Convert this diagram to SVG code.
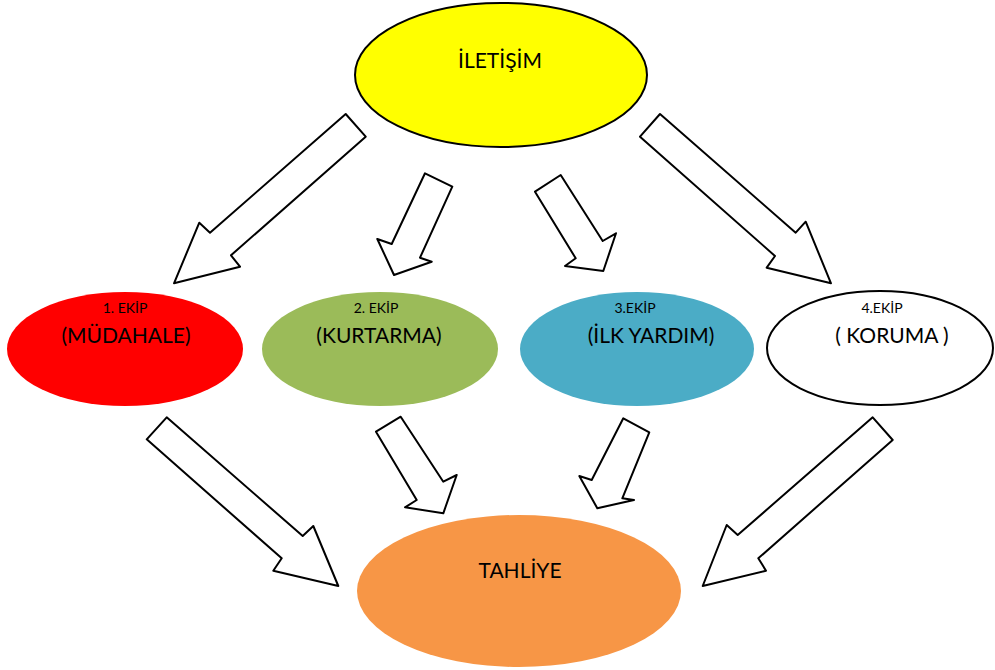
<svg xmlns="http://www.w3.org/2000/svg" width="995" height="670" viewBox="0 0 995 670">
<style>
.arrow{fill:#ffffff;stroke:#000000;stroke-width:2;stroke-linejoin:round}
text{font-family:Lato,"Open Sans","Liberation Sans",sans-serif;fill:#000000;text-anchor:middle}
.big{font-size:21px}
.small{font-size:14px}
</style>
<rect width="995" height="670" fill="#ffffff"/>
<g id="connectors">
<polygon class="arrow" points="345.7,114 365.7,136.7 231,255.3 240,266.7 174,283.3 199.3,222.7 210,232.7"/>
<polygon class="arrow" points="425,173.3 452.3,186.7 420,257.7 431.7,261.7 394,275 377.3,239 391.7,244"/>
<polygon class="arrow" points="560.7,175 535,191.7 575.7,258.3 565,266 603.3,271 616,233.3 602.7,241"/>
<polygon class="arrow" points="660,114 640,136.7 775,256 766.7,267.7 831,283.3 805.7,221.7 795.7,232.7"/>
<polygon class="arrow" points="166.7,417.3 146.7,439.3 281.7,558.3 273.3,570.7 338.3,586 313.3,526 302.7,536"/>
<polygon class="arrow" points="400.7,416.7 376,431.7 416.7,500 405,507.3 443.3,513.3 456.7,475 443.3,481.7"/>
<polygon class="arrow" points="623.3,418.3 649.3,432.3 622.3,498.3 634,500 597.3,508.3 579.3,476 591.7,480"/>
<polygon class="arrow" points="872.7,417.3 892.7,440 758.3,558.3 766,570.7 702.7,586 726.7,525 737.7,535"/>
</g>
<g id="iletisim">
<ellipse cx="501" cy="75" rx="146" ry="72" fill="#ffff00" stroke="#000000" stroke-width="2"/>
<text class="big" x="500" y="68">İLETİŞİM</text>
</g>
<g id="ekip1">
<ellipse cx="125" cy="349" rx="118" ry="57" fill="#ff0000"/>
<text class="small" x="125" y="313">1. EKİP</text>
<text class="big" x="126" y="343">(MÜDAHALE)</text>
</g>
<g id="ekip2">
<ellipse cx="380" cy="349" rx="118" ry="57" fill="#9bbb59"/>
<text class="small" x="376" y="313">2. EKİP</text>
<text class="big" x="379" y="343">(KURTARMA)</text>
</g>
<g id="ekip3">
<ellipse cx="637" cy="349" rx="117" ry="57" fill="#4bacc6"/>
<text class="small" x="635" y="313">3.EKİP</text>
<text class="big" x="651" y="343">(İLK YARDIM)</text>
</g>
<g id="ekip4">
<ellipse cx="880" cy="348" rx="113" ry="57" fill="#ffffff" stroke="#000000" stroke-width="2"/>
<text class="small" x="882" y="313">4.EKİP</text>
<text class="big" x="892" y="343">( KORUMA )</text>
</g>
<g id="tahliye">
<ellipse cx="519" cy="591" rx="162" ry="76" fill="#f79646"/>
<text class="big" x="520" y="578">TAHLİYE</text>
</g>
</svg>
